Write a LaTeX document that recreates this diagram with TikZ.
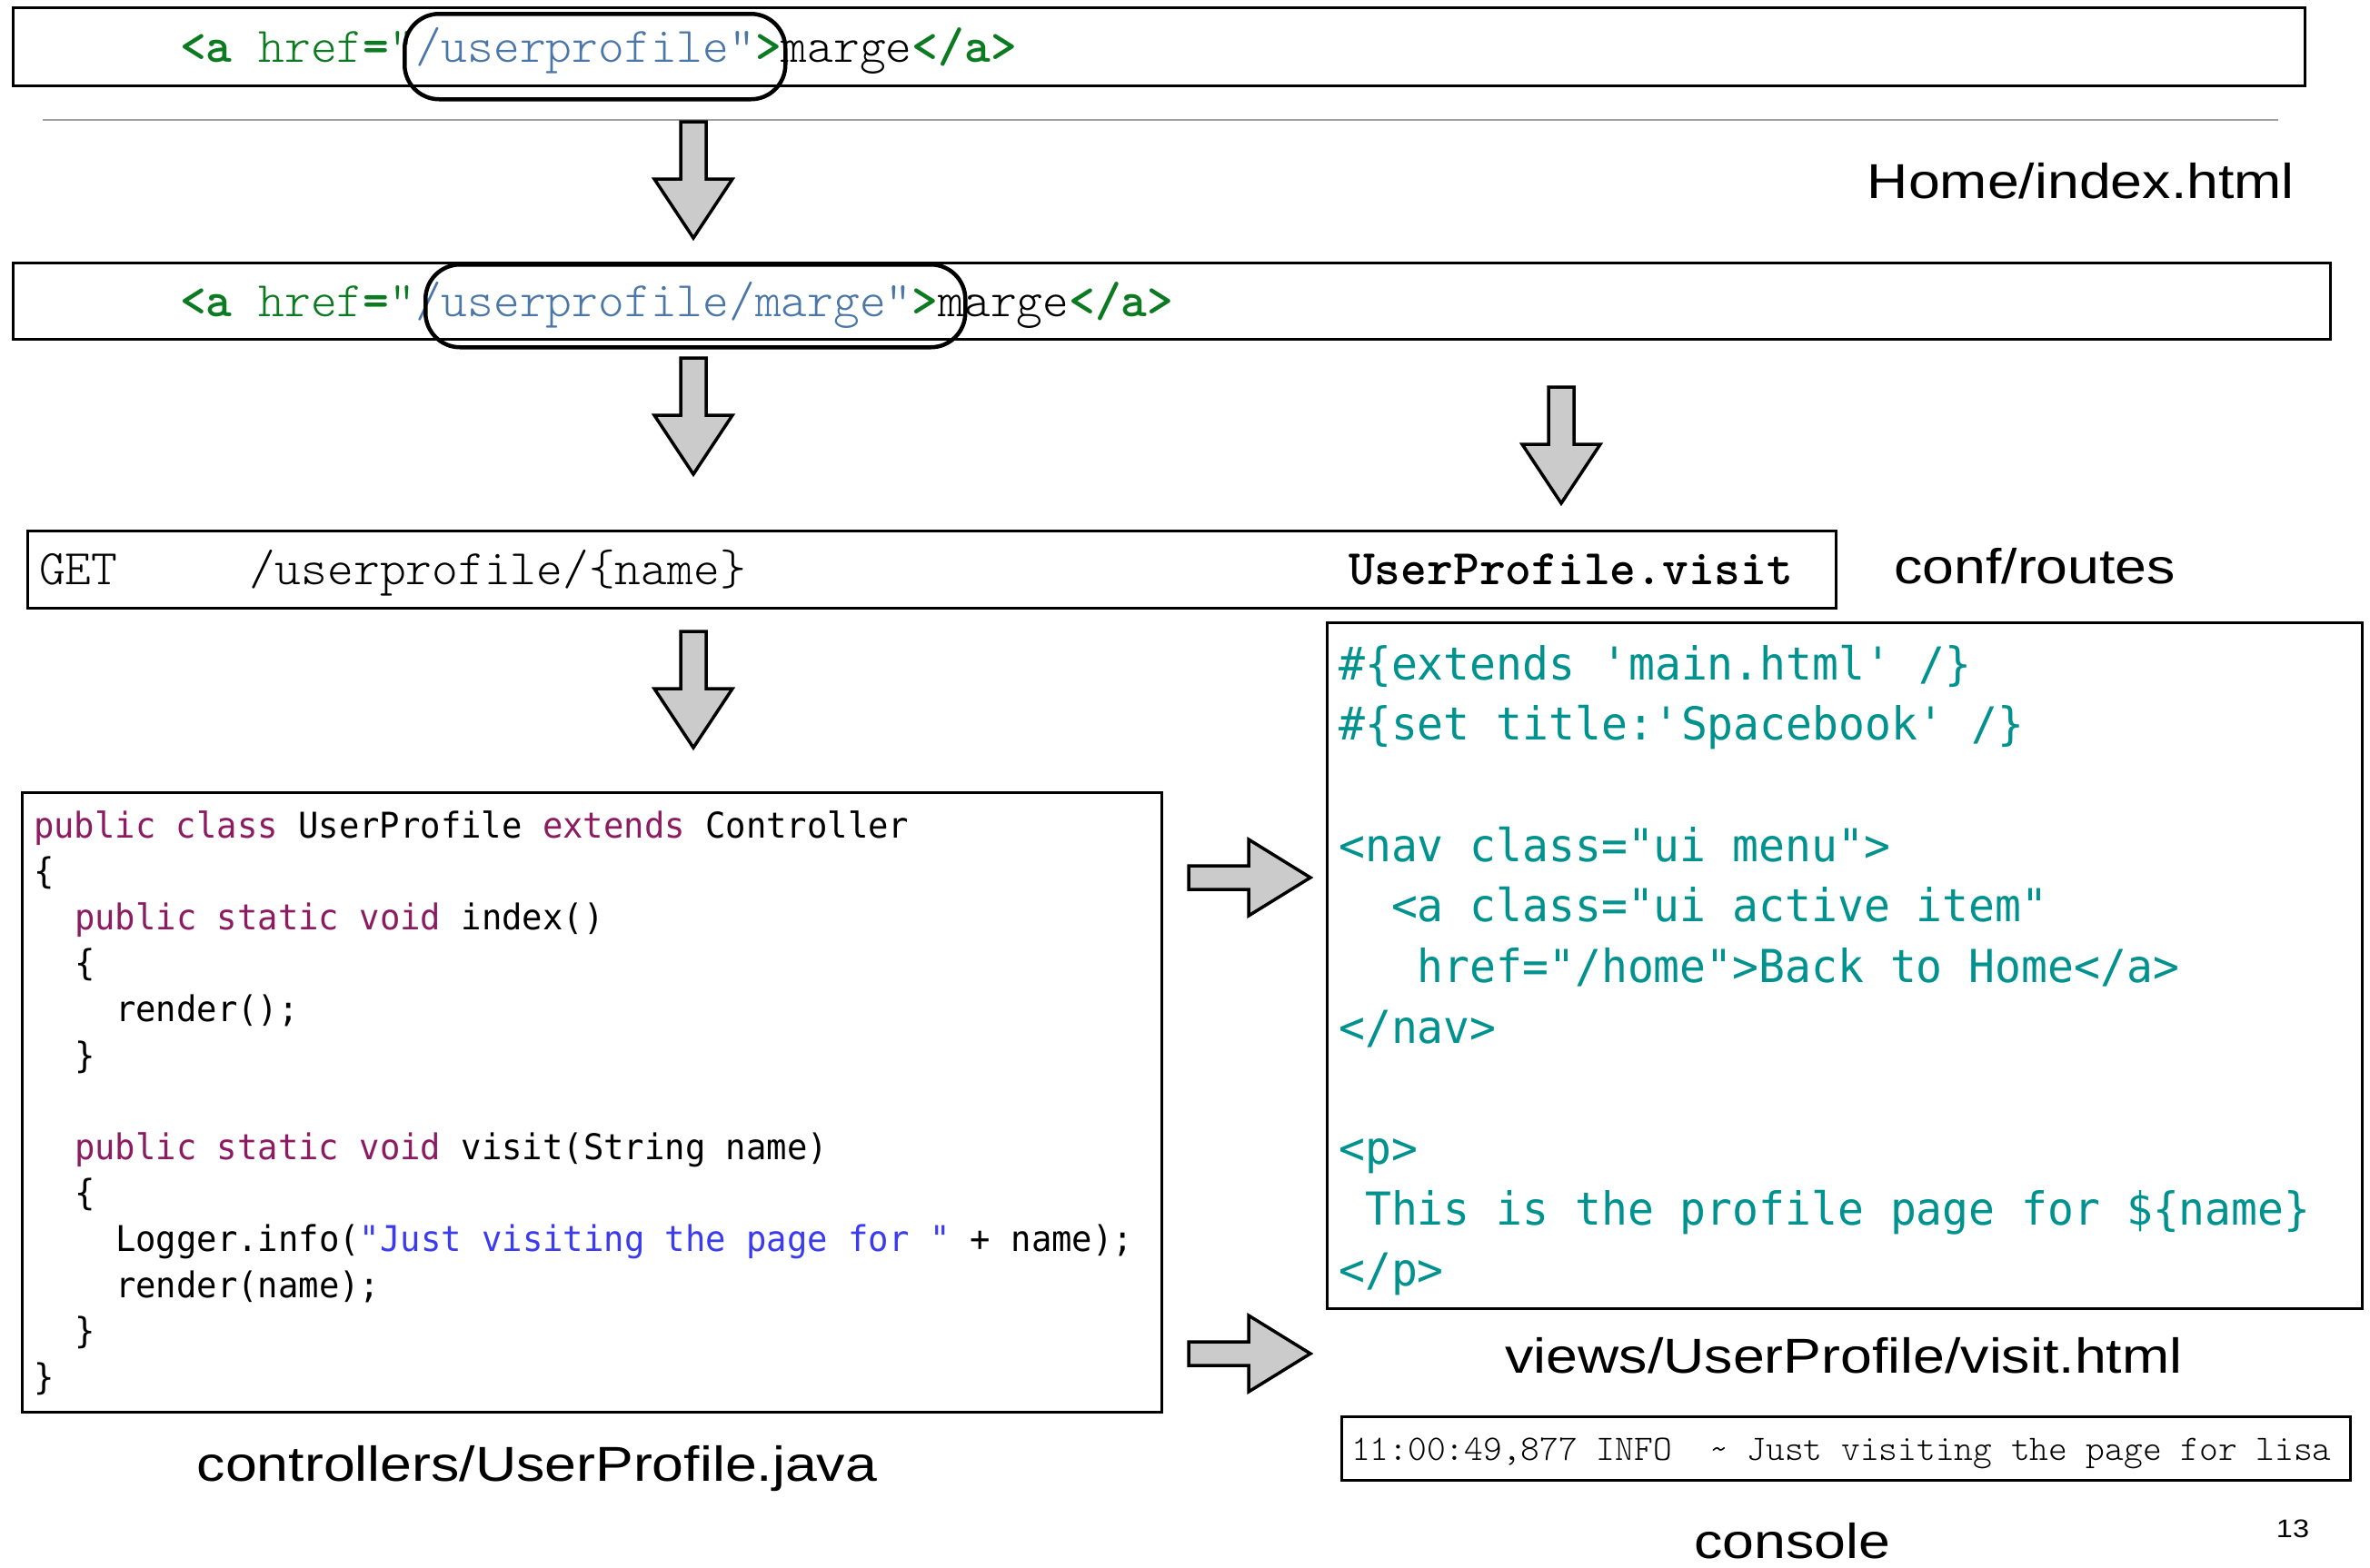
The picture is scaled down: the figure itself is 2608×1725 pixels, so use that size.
\documentclass[tikz,border=0pt]{standalone}
\usepackage{fontspec}
\newfontfamily\labelfont{Liberation Sans}[FakeStretch=1.16]
\newfontfamily\ctrlfont{DejaVu Sans Mono}[FakeStretch=0.954]
\newfontfamily\viewfont{DejaVu Sans Mono}[FakeStretch=0.96]
\newfontfamily\cour{lmmonolt10-regular.otf}[BoldFont=lmmonolt10-bold.otf]
\definecolor{tagGreen}{HTML}{0B7A20}
\definecolor{pathBlue}{HTML}{4A76A8}
\definecolor{kwPurple}{HTML}{8C1C62}
\definecolor{strBlue}{HTML}{3B3BF0}
\definecolor{viewTeal}{HTML}{00928F}
\definecolor{arrowGray}{HTML}{CBCBCB}
\definecolor{sepGray}{HTML}{A0A0A0}
\newcommand\kw[1]{\textcolor{kwPurple}{#1}}
\newcommand\strq[1]{\textcolor{strBlue}{#1}}
\newcommand\bb[1]{\textbf{#1}}
\tikzset{
  box/.style={draw, line width=3pt, inner sep=0pt, anchor=north west},
  oval/.style={draw, line width=4.5pt, rounded corners=38pt, inner sep=0pt, anchor=north west},
  blockarrow/.style={draw, line width=3.5pt, fill=arrowGray, line join=miter},
  sepline/.style={draw=sepGray, line width=2.5pt},
  codeA/.style={anchor=base west, inner sep=0pt, font=\cour\fontsize{54.8}{60}\selectfont},
  consA/.style={anchor=base west, inner sep=0pt, font=\cour\fontsize{39.5}{44}\selectfont},
  ctrl/.style={anchor=base west, inner sep=0pt, font=\ctrlfont\fontsize{39}{44}\selectfont},
  viewc/.style={anchor=base west, inner sep=0pt, text=viewTeal, font=\viewfont\fontsize{50}{56}\selectfont},
  lbl/.style={inner sep=0pt, font=\labelfont\fontsize{54}{60}\selectfont},
  darr/.pic={\draw[blockarrow] (-14,0) -- (-14,63) -- (-43,63) -- (0,128) -- (43,63) -- (14,63) -- (14,0) -- cycle;},
  rarr/.pic={\draw[blockarrow] (0,-13) -- (66,-13) -- (66,-42) -- (134,0) -- (66,42) -- (66,13) -- (0,13) -- cycle;}
}
\begin{document}
\begin{tikzpicture}[x=1pt,y=-1pt]
\useasboundingbox (0,0) rectangle (2608,1725);
\fill[white] (0,0) rectangle (2608,1725);

% boxes
\node[box, minimum width=2522pt, minimum height=86pt] (b1) at (13,7) {};
\node[box, minimum width=2550pt, minimum height=84pt] (b2) at (13,288) {};
\node[box, minimum width=1990pt, minimum height=85pt] (b3) at (29,583) {};
\node[box, minimum width=1254pt, minimum height=682pt] (b4) at (23,871) {};
\node[box, minimum width=1139pt, minimum height=755pt] (b5) at (1459,684) {};
\node[box, minimum width=1110pt, minimum height=70pt] (b6) at (1475,1558) {};

% separator
\draw[sepline] (47,132) -- (2507,132);

% html lines
\node[codeA] (t1) at (198,68) {\textcolor{tagGreen}{\bb{<a} href\bb{=}"}\textcolor{pathBlue}{/userprofile"}\textcolor{tagGreen}{\bb{>}}marge\textcolor{tagGreen}{\bb{</a>}}};
\node[codeA] (t2) at (198,348) {\textcolor{tagGreen}{\bb{<a} href\bb{=}"}\textcolor{pathBlue}{/userprofile/marge"}\textcolor{tagGreen}{\bb{>}}marge\textcolor{tagGreen}{\bb{</a>}}};

% routes
\node[codeA] (get) at (43,643) {GET};
\node[codeA] (rpath) at (274,643) {/userprofile/\{name\}};
\node[codeA] (ract) at (1484,643) {\bb{UserProfile.visit}};

% controller code
\node[ctrl] (c0) at (37,922) {\kw{public class} UserProfile \kw{extends} Controller};
\node[ctrl] (c1) at (37,972.6) {\{};
\node[ctrl] (c2) at (82,1023.2) {\kw{public static void} index()};
\node[ctrl] (c3) at (82,1073.8) {\{};
\node[ctrl] (c4) at (127,1124.4) {render();};
\node[ctrl] (c5) at (82,1175) {\}};
\node[ctrl] (c7) at (82,1276.2) {\kw{public static void} visit(String name)};
\node[ctrl] (c8) at (82,1326.8) {\{};
\node[ctrl] (c9) at (127,1377.4) {Logger.info(\strq{"Just visiting the page for "} + name);};
\node[ctrl] (c10) at (127,1428) {render(name);};
\node[ctrl] (c11) at (82,1478.6) {\}};
\node[ctrl] (c12) at (37,1529.2) {\}};

% view code
\node[viewc] (v0) at (1473,748) {\#\{extends \textquotesingle main.html\textquotesingle{} /\}};
\node[viewc] (v1) at (1473,814.7) {\#\{set title:\textquotesingle Spacebook\textquotesingle{} /\}};
\node[viewc] (v3) at (1473,948.1) {<nav class="ui menu">};
\node[viewc] (v4) at (1530.8,1014.8) {<a class="ui active item"};
\node[viewc] (v5) at (1559.7,1081.5) {href="/home">Back to Home</a>};
\node[viewc] (v6) at (1473,1148.2) {</nav>};
\node[viewc] (v8) at (1473,1281.6) {<p>};
\node[viewc] (v9) at (1501.9,1348.3) {This is the profile page for \$\{name\}};
\node[viewc] (v10) at (1473,1415) {</p>};

% console
\node[consA] (log) at (1487,1607) {11:00:49,877 INFO\space\space\textasciitilde{} Just visiting the page for lisa};

% labels
\node[lbl, anchor=base east] (lhome) at (2525,218) {Home/index.html};
\node[lbl, anchor=base west] (lroutes) at (2084,642) {conf/routes};
\node[lbl, anchor=base] (lctrl) at (591,1630) {controllers/UserProfile.java};
\node[lbl, anchor=base] (lview) at (2029,1511) {views/UserProfile/visit.html};
\node[lbl, anchor=base] (lcons) at (1972,1715) {console};
\node[inner sep=0pt, anchor=base, font=\labelfont\fontsize{28}{32}\selectfont] (pnum) at (2523,1692) {13};

% highlight ovals
\node[oval, minimum width=419pt, minimum height=94pt] (o1) at (443,13) {};
\node[oval, minimum width=594pt, minimum height=91pt] (o2) at (466,289) {};

% block arrows
\pic at (763,134) {darr};
\pic at (763,394) {darr};
\pic at (1718,426) {darr};
\pic at (763,695) {darr};
\pic at (1308,966) {rarr};
\pic at (1308,1490) {rarr};
\end{tikzpicture}
\end{document}
